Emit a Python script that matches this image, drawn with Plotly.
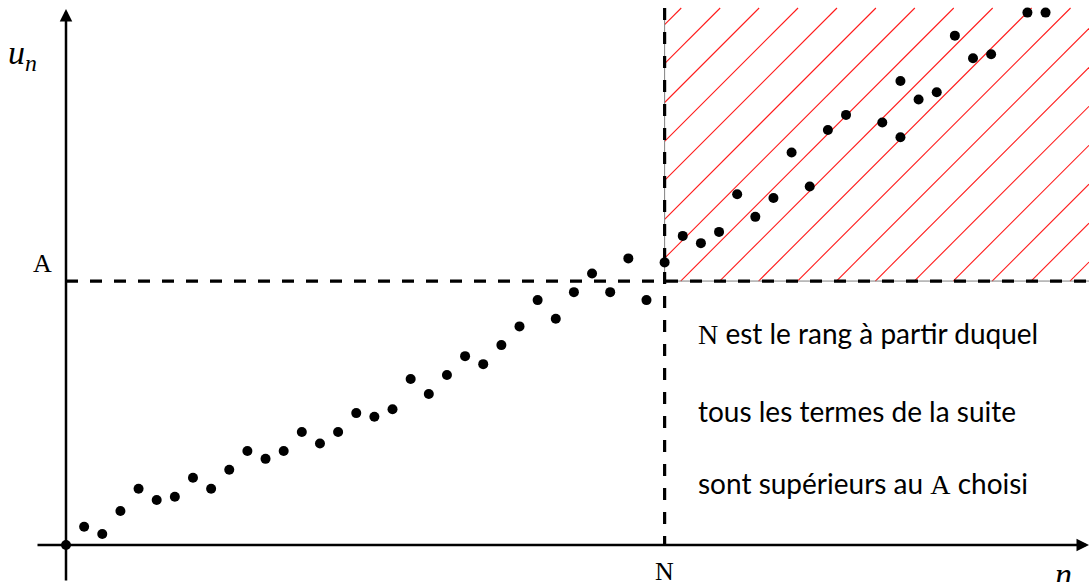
import plotly.graph_objects as go

# ---------------- data ----------------
n_values = [0, 1, 2, 3, 4, 5, 6, 7, 8, 9, 10, 11, 12, 13, 14, 15, 16, 17, 18, 19,
            20, 21, 22, 23, 24, 25, 26, 27, 28, 29, 30, 31, 32, 33, 34, 35, 36, 37,
            38, 39, 40, 41, 42, 43, 45, 46, 46, 47, 48, 49, 50, 51, 53, 54]
u_values = [0.00, 1.01, 0.61, 1.87, 3.10, 2.48, 2.66, 3.71, 3.10, 4.15, 5.18, 4.75,
            5.18, 6.23, 5.60, 6.23, 7.27, 7.07, 7.48, 9.15, 8.32, 9.37, 10.41, 9.97,
            11.02, 12.05, 13.50, 12.47, 13.94, 14.97, 13.94, 15.80, 13.50, 15.58,
            17.04, 16.64, 17.26, 19.34, 18.09, 19.13, 21.64, 19.76, 22.88, 23.71,
            23.29, 25.58, 22.48, 24.56, 24.96, 28.08, 26.83, 27.05, 29.35, 29.35]
A_value = 14.55
N_value = 33
x_tick_labels = ["N"]
y_tick_labels = ["A"]
note_lines = ["N est le rang à partir duquel",
              "tous les termes de la suite",
              "sont supérieurs au A choisi"]

# ---------------- geometry ----------------
W, H = 1089, 582
PX = 18.14          # pixels per unit
X0, Y0 = 66, 545    # pixel position of the origin
x_min, x_max = -X0 / PX, (W - X0) / PX
y_min, y_max = -(H - Y0) / PX, Y0 / PX
y_top = (Y0 - 8) / PX          # top of hatched zone / dashed line
x_axis_start = (36 - X0) / PX
y_arrow_tip = (Y0 - 9) / PX
hatch_step = 38.93 / PX
hatch_c0 = A_value - (680.7 - X0) / PX   # y - x for one hatch line

def px_x(p):
    return p / W

def px_y(p):
    return 1 - p / H

fig = go.Figure()

# hatch lines inside [N, x_max] x [A, y_top]
hx, hy = [], []
c_lo = A_value - x_max
c_hi = y_top - N_value
k_lo = int((c_lo - hatch_c0) / hatch_step) - 1
k_hi = int((c_hi - hatch_c0) / hatch_step) + 1
for k in range(k_lo, k_hi + 1):
    c = hatch_c0 + k * hatch_step
    xa = max(N_value, A_value - c)
    xb = min(x_max, y_top - c)
    if xb > xa:
        hx += [xa, xb, None]
        hy += [xa + c, xb + c, None]
fig.add_trace(go.Scatter(x=hx, y=hy, mode="lines",
                         line=dict(color="#ff1a1a", width=1.1), hoverinfo="skip"))

# grey border of the hatched zone (left and bottom)
fig.add_trace(go.Scatter(x=[N_value, N_value, x_max], y=[y_top, A_value, A_value],
                         mode="lines", line=dict(color="#808080", width=1),
                         hoverinfo="skip"))

# dashed lines
fig.add_trace(go.Scatter(x=[0, x_max], y=[A_value, A_value], mode="lines",
                         line=dict(color="black", width=3.2, dash="12px,12px"),
                         hoverinfo="skip"))
fig.add_trace(go.Scatter(x=[N_value, N_value], y=[y_top, 0], mode="lines",
                         line=dict(color="black", width=3.2, dash="12px,12px"),
                         hoverinfo="skip"))

# points
fig.add_trace(go.Scatter(x=n_values, y=u_values, mode="markers",
                         marker=dict(color="black", size=10, line=dict(width=0)),
                         hoverinfo="skip"))

annotations = []
# axes with arrows
annotations.append(dict(x=x_max, y=0, ax=x_axis_start, ay=0, xref="x", yref="y",
                        axref="x", ayref="y", text="", showarrow=True,
                        arrowhead=2, arrowsize=1.0, arrowwidth=2.5, arrowcolor="black",
                        standoff=0))
annotations.append(dict(x=0, y=y_arrow_tip, ax=0, ay=y_min, xref="x", yref="y",
                        axref="x", ayref="y", text="", showarrow=True,
                        arrowhead=2, arrowsize=1.0, arrowwidth=2.5, arrowcolor="black",
                        standoff=0))

serif = "Liberation Serif"
sans = "Lato"
# axis names
annotations.append(dict(x=px_x(6), y=px_y(55), xref="paper", yref="paper",
                        text="<i>u</i><sub><i>n</i></sub>", showarrow=False,
                        xanchor="left", yanchor="middle",
                        font=dict(family=serif, size=34, color="black")))
annotations.append(dict(x=px_x(1063), y=px_y(574), xref="paper", yref="paper",
                        text="<i>n</i>", showarrow=False, xanchor="center",
                        yanchor="middle", font=dict(family=serif, size=34, color="black")))
# tick labels
annotations.append(dict(x=px_x(42), y=(Y0 - 263) / PX, xref="paper", yref="y",
                        text=y_tick_labels[0], showarrow=False, xanchor="center",
                        yanchor="middle", font=dict(family=serif, size=26, color="black")))
annotations.append(dict(x=N_value, y=px_y(571), xref="x", yref="paper",
                        text=x_tick_labels[0], showarrow=False, xanchor="center",
                        yanchor="middle", font=dict(family=serif, size=26, color="black")))

# explanatory text
baselines = [343, 421, 493]
for line, b in zip(note_lines, baselines):
    t = line.replace("N ", '<span style="font-family:Liberation Serif">N</span> ', 1) \
        if line.startswith("N ") else line
    t = t.replace(" A ", ' <span style="font-family:Liberation Serif">A</span> ')
    annotations.append(dict(x=px_x(696), y=px_y(b - 10), xref="paper", yref="paper",
                            text=t, showarrow=False, xanchor="left", yanchor="middle",
                            font=dict(family=sans, size=28, color="black")))

fig.update_layout(
    width=W, height=H, margin=dict(l=0, r=0, t=0, b=0),
    paper_bgcolor="white", plot_bgcolor="white", showlegend=False,
    xaxis=dict(range=[x_min, x_max], visible=False, fixedrange=True),
    yaxis=dict(range=[y_min, y_max], visible=False, fixedrange=True),
    annotations=annotations,
)

fig.write_html("out.html", config={"displayModeBar": False},
               post_script="document.body.style.margin='0';"
                           "document.body.style.overflow='hidden';")
